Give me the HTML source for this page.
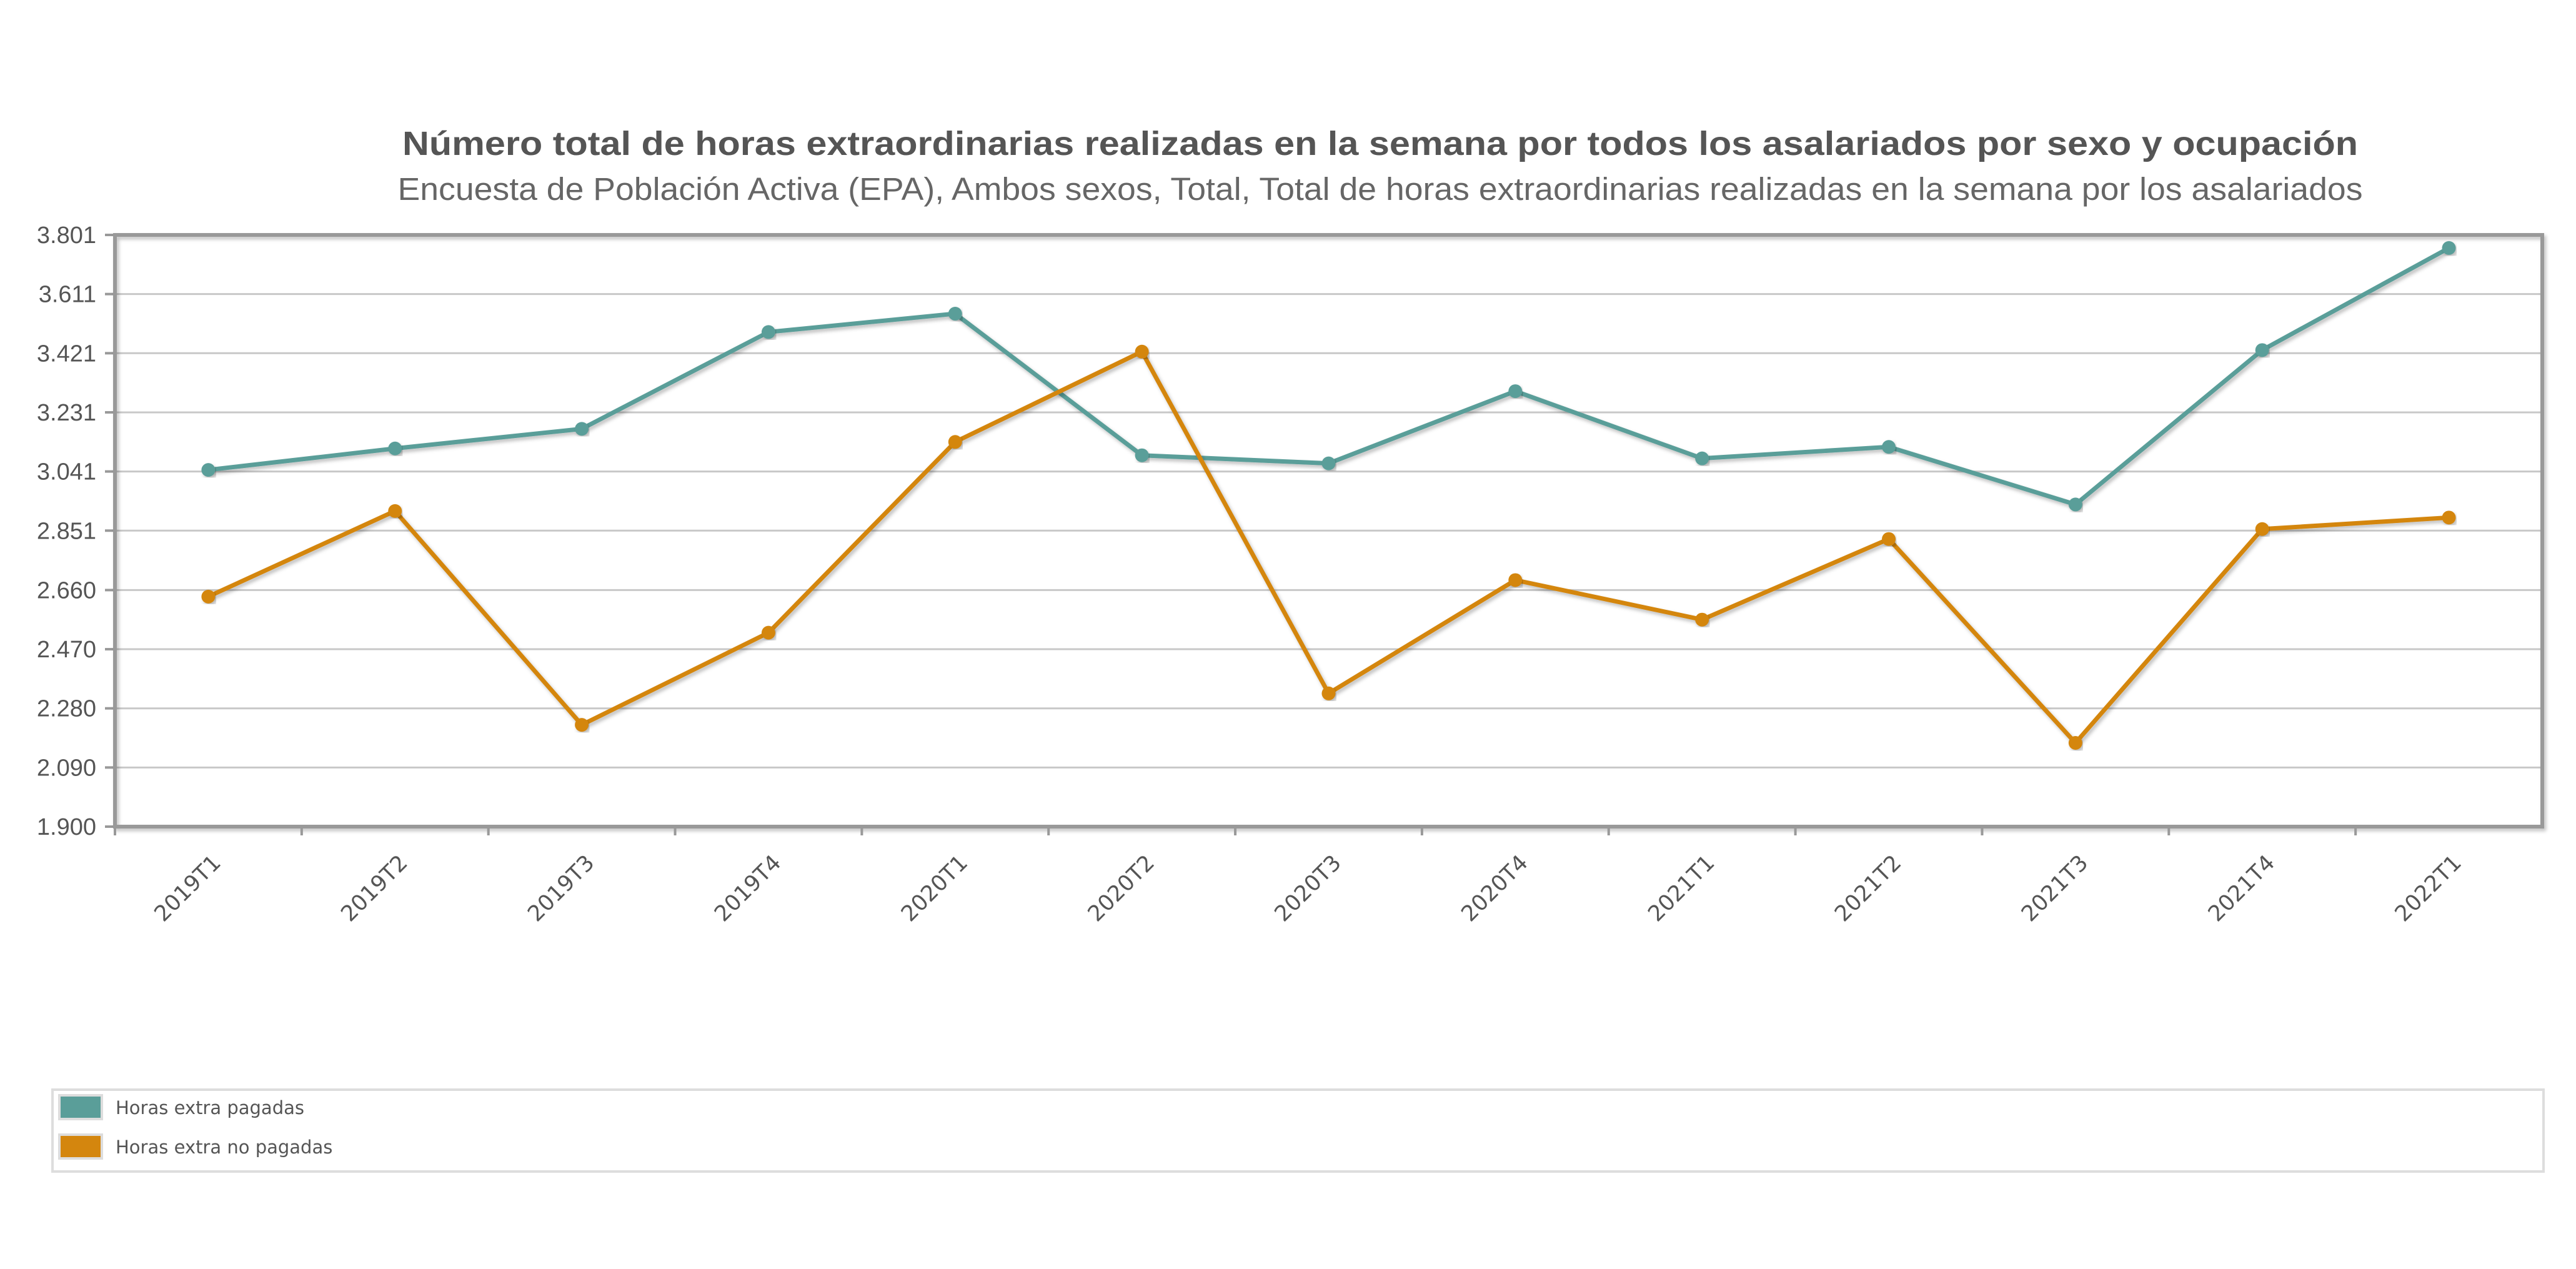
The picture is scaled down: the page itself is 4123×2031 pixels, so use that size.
<!DOCTYPE html>
<html><head><meta charset="utf-8"><style>
html,body{margin:0;padding:0;background:#fff;}
svg{display:block;}
</style></head><body>
<svg id="chart" width="4123" height="2031" viewBox="0 0 4123 2031" xmlns="http://www.w3.org/2000/svg">
<defs>
<filter id="sh" x="-5%" y="-5%" width="110%" height="110%"><feDropShadow dx="3" dy="4" stdDeviation="3" flood-color="#000" flood-opacity="0.25"/></filter>
</defs>
<text x="2209" y="248" text-anchor="middle" textLength="3130" lengthAdjust="spacingAndGlyphs" font-family="Liberation Sans, sans-serif" font-weight="bold" font-size="54" fill="#555">Número total de horas extraordinarias realizadas en la semana por todos los asalariados por sexo y ocupación</text>
<text x="2209" y="320" text-anchor="middle" textLength="3145" lengthAdjust="spacingAndGlyphs" font-family="Liberation Sans, sans-serif" font-size="51" fill="#666">Encuesta de Población Activa (EPA), Ambos sexos, Total, Total de horas extraordinarias realizadas en la semana por los asalariados</text>
<g id="grid"></g>
<g id="axes"></g>
<g id="series"></g>
<g>
<rect x="84" y="1744" width="3987" height="131" fill="#fff" stroke="#ddd" stroke-width="4"/>
<rect x="95" y="1753" width="68" height="38" fill="#5a9e99" stroke="#ddd" stroke-width="4"/>
<text x="185" y="1783" font-family="DejaVu Sans, sans-serif" font-size="29" fill="#555">Horas extra pagadas</text>
<rect x="95" y="1816" width="68" height="38" fill="#d4860e" stroke="#ddd" stroke-width="4"/>
<text x="185" y="1846" font-family="DejaVu Sans, sans-serif" font-size="29" fill="#555">Horas extra no pagadas</text>
</g>
</svg>
<script>
const categories = ["2019T1","2019T2","2019T3","2019T4","2020T1","2020T2","2020T3","2020T4","2021T1","2021T2","2021T3","2021T4","2022T1"];
const pagadas = [3046,3115,3178,3489,3548,3093,3067,3299,3083,3120,2935,3431,3759];
const noPagadas = [2639,2914,2227,2523,3136,3426,2328,2692,2565,2824,2169,2856,2893];
const yTicks = [1900,2090,2280,2470,2660,2851,3041,3231,3421,3611,3801];
const yTickLabels = ["1.900","2.090","2.280","2.470","2.660","2.851","3.041","3.231","3.421","3.611","3.801"];
const yMin = 1900, yMax = 3801;

const NS = "http://www.w3.org/2000/svg";
const L = 184, R = 4069, T = 376, B = 1323;
const bw = (R - L) / categories.length;
function xPos(i){ return L + bw * (i + 0.5); }
function yPos(v){ return B - (v - yMin) / (yMax - yMin) * (B - T); }
function mk(tag, attrs, parent){ const e = document.createElementNS(NS, tag); for (const k in attrs) e.setAttribute(k, attrs[k]); parent.appendChild(e); return e; }

const grid = document.getElementById('grid');
const axes = document.getElementById('axes');
const series = document.getElementById('series');

yTicks.forEach((t, i) => {
  const y = yPos(t);
  const g = mk('line', {x1: L, x2: R, y1: y, y2: y, stroke: '#c8c8c8', 'stroke-width': 3}, grid);
  
  
  const tk = mk('line', {x1: L - 16, x2: L, y1: y, y2: y, stroke: '#999', 'stroke-width': 4}, axes);
  
  
  const lb = mk('text', {x: L - 30, y: y + 13, 'text-anchor': 'end', 'font-family': 'Liberation Sans, sans-serif', 'font-size': 38, fill: '#555'}, axes);
  lb.textContent = yTickLabels[i];
  
  
});

const frame = mk('rect', {x: L, y: T, width: R - L, height: B - T, fill: 'none', stroke: '#999', 'stroke-width': 6, filter: 'url(#sh)'}, axes);



categories.forEach((c, i) => {
  const xt = L + bw * i;
  const tk = mk('line', {x1: xt, x2: xt, y1: B, y2: B + 14, stroke: '#999', 'stroke-width': 4}, axes);
  
  
  const x = xPos(i), y = B + 60;
  const lb = mk('text', {x: x + 22, y: y, 'text-anchor': 'end', transform: `rotate(-45 ${x + 22} ${y})`, 'font-family': 'DejaVu Sans, sans-serif', 'font-size': 35, fill: '#555'}, axes);
  lb.textContent = c;
  
  
});

function drawSeries(vals, color, name){
  const pts = vals.map((v, i) => xPos(i) + ',' + yPos(v)).join(' ');
  const pl = mk('polyline', {points: pts, fill: 'none', stroke: color, 'stroke-width': 7, 'stroke-linejoin': 'round', filter: 'url(#sh)'}, series);
  
  
  vals.forEach((v, i) => {
    const c = mk('circle', {cx: xPos(i), cy: yPos(v), r: 11, fill: color, filter: 'url(#sh)'}, series);
    
    
  });
}
drawSeries(pagadas, '#5a9e99', 'pagadas');
drawSeries(noPagadas, '#d4860e', 'no-pagadas');
</script>
</body></html>
